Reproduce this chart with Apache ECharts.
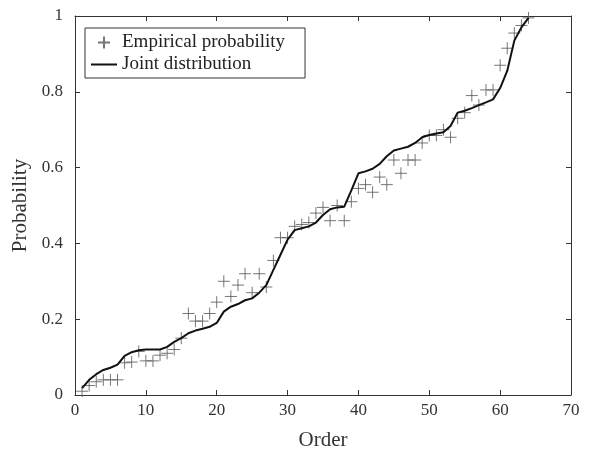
<!DOCTYPE html>
<html>
<head>
<meta charset="utf-8">
<script src="https://cdn.jsdelivr.net/npm/echarts@6/dist/echarts.min.js"></script>
<style>
  html, body { margin: 0; padding: 0; background: #fff; }
  #chart { width: 590px; height: 456px; }
</style>
</head>
<body>
<div id="chart"></div>
<script>
// Sample order numbers 1..64
const orders = [
  1, 2, 3, 4, 5, 6, 7, 8, 9, 10, 11, 12, 13, 14, 15, 16,
  17, 18, 19, 20, 21, 22, 23, 24, 25, 26, 27, 28, 29, 30, 31, 32,
  33, 34, 35, 36, 37, 38, 39, 40, 41, 42, 43, 44, 45, 46, 47, 48,
  49, 50, 51, 52, 53, 54, 55, 56, 57, 58, 59, 60, 61, 62, 63, 64
];

// Empirical probability for each order
const empirical = [
  0.010, 0.025, 0.035, 0.040, 0.040, 0.040, 0.085, 0.087,
  0.115, 0.090, 0.090, 0.105, 0.110, 0.120, 0.150, 0.215,
  0.195, 0.195, 0.215, 0.245, 0.300, 0.260, 0.290, 0.320,
  0.270, 0.320, 0.285, 0.355, 0.415, 0.415, 0.445, 0.450,
  0.455, 0.480, 0.495, 0.460, 0.500, 0.460, 0.510, 0.545,
  0.555, 0.535, 0.575, 0.555, 0.620, 0.585, 0.620, 0.620,
  0.665, 0.685, 0.685, 0.700, 0.680, 0.730, 0.745, 0.790,
  0.765, 0.805, 0.805, 0.870, 0.915, 0.955, 0.975, 0.995
];

// Probability from the joint distribution
const joint = [
  0.018, 0.040, 0.055, 0.066, 0.072, 0.080, 0.103, 0.113,
  0.118, 0.120, 0.120, 0.120, 0.127, 0.140, 0.150, 0.163,
  0.170, 0.175, 0.180, 0.190, 0.220, 0.233, 0.240, 0.250,
  0.255, 0.270, 0.290, 0.330, 0.370, 0.410, 0.435, 0.440,
  0.445, 0.455, 0.475, 0.490, 0.495, 0.497, 0.540, 0.585,
  0.590, 0.597, 0.610, 0.630, 0.645, 0.650, 0.655, 0.665,
  0.680, 0.686, 0.690, 0.693, 0.710, 0.745, 0.750, 0.757,
  0.765, 0.772, 0.780, 0.810, 0.855, 0.935, 0.970, 0.995
];

const xTicks = { min: 0, max: 70, interval: 10 };
const yTicks = { min: 0, max: 1, interval: 0.2 };

const FONT = '"Liberation Serif", "Times New Roman", serif';
const AXIS_COLOR = '#333';
const PLUS = 'path://M0,5L10,5M5,0L5,10';
// Flat bar inside a 26x12 box, used as the legend sample of the line
const LINE_ICON = 'path://M0,0H0.01V0.01H0Z M0,5H26V7H0Z M26,12H25.99V11.99H26Z';

const empiricalPts = orders.map((o, i) => [o, empirical[i]]);
const jointPts = orders.map((o, i) => [o, joint[i]]);

function boxAxis(base, extra) {
  return Object.assign({
    type: 'value',
    axisLine: { show: true, onZero: false, lineStyle: { color: AXIS_COLOR, width: 1 } },
    axisTick: { show: true, inside: true, length: 5, lineStyle: { color: AXIS_COLOR } },
    splitLine: { show: false }
  }, base, extra);
}

const chart = echarts.init(document.getElementById('chart'), null, { renderer: 'canvas' });

chart.setOption({
  backgroundColor: '#fff',
  animation: false,
  grid: { left: 75, right: 19, top: 16, bottom: 61, containLabel: false },
  legend: {
    left: 85,
    top: 28,
    orient: 'vertical',
    backgroundColor: '#fff',
    borderColor: '#333',
    borderWidth: 1,
    borderRadius: 0,
    padding: [5, 20, 4, 6],
    itemGap: 3,
    itemWidth: 26,
    itemHeight: 12,
    textStyle: { fontFamily: FONT, fontSize: 19, color: '#222' },
    data: [
      { name: 'Empirical probability' },
      { name: 'Joint distribution', icon: LINE_ICON }
    ]
  },
  xAxis: [
    boxAxis(xTicks, {
      position: 'bottom',
      name: 'Order',
      nameLocation: 'middle',
      nameGap: 35,
      nameTextStyle: { fontFamily: FONT, fontSize: 21, color: '#333' },
      axisLabel: { fontFamily: FONT, fontSize: 17, color: '#333', margin: 7 }
    }),
    boxAxis(xTicks, { position: 'top', axisLabel: { show: false } })
  ],
  yAxis: [
    boxAxis(yTicks, {
      position: 'left',
      name: 'Probability',
      nameLocation: 'middle',
      nameGap: 40,
      nameTextStyle: { fontFamily: FONT, fontSize: 21, color: '#333' },
      axisLabel: { fontFamily: FONT, fontSize: 17, color: '#333', margin: 12,
        formatter: v => String(Math.round(v * 10) / 10) }
    }),
    boxAxis(yTicks, { position: 'right', axisLabel: { show: false } })
  ],
  series: [
    {
      name: 'Empirical probability',
      type: 'scatter',
      data: empiricalPts,
      symbol: PLUS,
      symbolSize: 12,
      itemStyle: { color: 'rgba(0,0,0,0)', borderColor: '#555', borderWidth: 1 },
      z: 2
    },
    {
      name: 'Joint distribution',
      type: 'line',
      data: jointPts,
      symbol: 'none',
      lineStyle: { color: '#111', width: 2 },
      itemStyle: { color: '#111' },
      z: 3
    }
  ]
});
</script>
</body>
</html>
